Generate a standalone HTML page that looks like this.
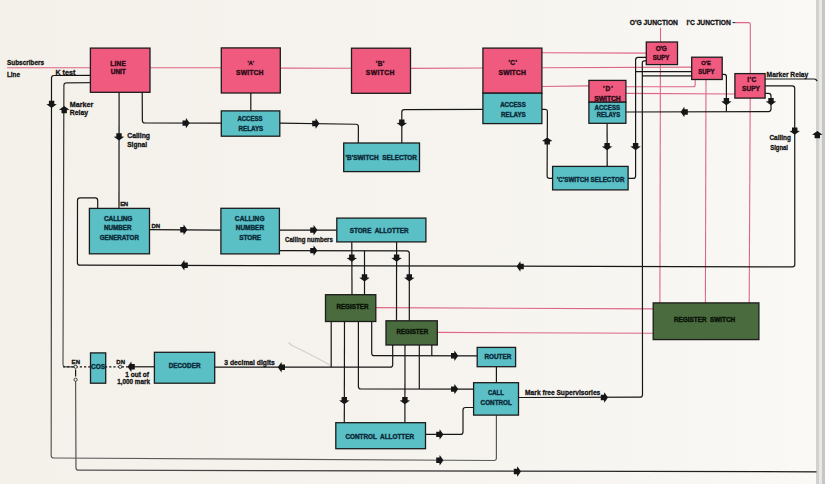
<!DOCTYPE html>
<html><head><meta charset="utf-8"><title>Diagram</title>
<style>html,body{margin:0;padding:0;background:#f1eee9;}body{width:825px;height:484px;overflow:hidden;font-family:"Liberation Sans",sans-serif;}svg{display:block;}</style>
</head><body>
<svg width="825" height="484" viewBox="0 0 825 484">
<defs>
<linearGradient id="bg" x1="0" y1="0" x2="1" y2="0">
<stop offset="0" stop-color="#f4f0ea"/><stop offset="0.45" stop-color="#f6f3ee"/><stop offset="0.8" stop-color="#f8f6f2"/><stop offset="1" stop-color="#faf9f6"/>
</linearGradient>
<linearGradient id="fadeK" gradientUnits="userSpaceOnUse" x1="0" y1="150" x2="0" y2="460"><stop offset="0" stop-color="#141414"/><stop offset="1" stop-color="#5c5c5c"/></linearGradient>
<linearGradient id="fadeM" gradientUnits="userSpaceOnUse" x1="0" y1="80" x2="0" y2="370"><stop offset="0" stop-color="#2a2a2a"/><stop offset="1" stop-color="#555"/></linearGradient>
<linearGradient id="fadeB" gradientUnits="userSpaceOnUse" x1="76" y1="0" x2="816" y2="0"><stop offset="0" stop-color="#555"/><stop offset="0.4" stop-color="#333"/><stop offset="1" stop-color="#1a1a1a"/></linearGradient>
</defs>
<rect x="0" y="0" width="825" height="484" fill="url(#bg)"/>
<rect x="816" y="0" width="3" height="484" fill="#d3d1ce"/>
<rect x="819" y="0" width="3" height="484" fill="#e9e8e6"/>
<rect x="822" y="0" width="3" height="484" fill="#c8c6c3"/>
<path d="M288.5 342.5Q290 344 293 346Q310 354 330 365" fill="none" stroke="#d2cfcb" stroke-width="1.1"/>
<g fill="none" stroke="#dd6686" stroke-width="1.1">
<path d="M7.00 67.80L90.40 67.80"/>
<path d="M150.00 67.70L221.30 67.80"/>
<path d="M280.30 68.10L351.50 68.30"/>
<path d="M410.50 68.40L482.90 68.00"/>
<path d="M541.90 67.70L691.70 67.10"/>
<path d="M541.90 52.80L646.30 53.10"/>
<path d="M541.90 86.50L588.90 85.90"/>
<path d="M625.90 86.80L693.20 86.80Q695.20 86.80 695.20 84.80L695.20 79.50"/>
<path d="M625.90 93.40L734.90 94.00"/>
<path d="M660.50 27.80L660.50 42.00"/>
<path d="M660.40 64.60L659.90 302.90"/>
<path d="M735.50 22.60L748.30 22.60Q750.30 22.60 750.30 24.60L750.30 73.60"/>
<path d="M750.20 98.10L749.20 302.90"/>
<path d="M706.00 79.50L705.40 302.90"/>
<path d="M375.80 307.60L653.20 308.90"/>
<path d="M437.30 332.40L653.20 333.30"/>
</g>
<g fill="none" stroke="#161616" stroke-width="1.2" stroke-linecap="butt">
<path d="M90.40 75.30L54.00 75.49Q51.50 75.50 51.50 78.00L51.20 455.50Q51.20 458.00 53.70 458.01L493.90 460.49Q496.40 460.50 496.40 458.00L496.40 415.10" stroke="url(#fadeK)"/>
<path d="M90.40 82.60L66.40 82.78Q63.90 82.80 63.89 85.30L63.01 364.30Q63.00 366.80 65.50 366.80L75.00 366.80" stroke="url(#fadeM)"/>
<path d="M250.80 93.00L250.80 110.90"/>
<path d="M119.10 92.30L119.00 208.40"/>
<path d="M142.20 92.30L142.38 120.50Q142.40 123.00 144.90 123.00L221.30 123.10"/>
<path d="M279.80 123.20L355.90 124.27Q358.40 124.30 358.39 126.80L358.30 143.00"/>
<path d="M482.90 109.40L404.30 109.59Q401.80 109.60 401.80 112.10L401.80 143.00"/>
<path d="M541.90 109.30L544.90 109.30Q547.40 109.30 547.39 111.80L547.11 175.90Q547.10 178.40 549.60 178.40L552.60 178.40"/>
<path d="M607.10 123.30L607.20 166.40"/>
<path d="M646.30 57.40L638.10 57.40Q635.60 57.40 635.60 59.90L635.60 175.90Q635.60 178.40 633.10 178.40L628.10 178.40"/>
<path d="M646.30 60.90L644.30 60.90Q642.30 60.90 642.30 62.90L642.50 394.70Q642.50 397.20 640.00 397.21L518.50 397.50"/>
<path d="M691.70 71.70L635.60 71.70"/>
<path d="M691.70 75.80L642.30 75.80"/>
<path d="M722.20 74.30L724.30 74.30Q726.40 74.30 726.40 76.40L726.40 111.50"/>
<path d="M765.10 93.40L768.50 93.40Q771.00 93.40 771.00 95.90L771.00 109.10Q771.00 111.60 768.50 111.61L625.90 112.00"/>
<path d="M765.10 85.90L792.20 85.90Q794.70 85.90 794.70 88.40L794.80 264.40Q794.80 266.90 792.30 266.89L79.90 265.21Q77.40 265.20 77.40 262.70L77.50 200.40Q77.50 197.90 80.00 197.90L95.20 197.90Q97.70 197.90 97.70 200.40L97.70 208.40"/>
<path d="M765.10 79.00L814.19 79.00Q815.50 79.00 816.35 80.00L817.20 81.00"/>
<path d="M816.50 471.80L78.50 470.21Q76.00 470.20 75.99 467.70L75.60 381.50" stroke="url(#fadeB)"/>
<path d="M149.50 229.70L220.90 230.10"/>
<path d="M279.40 230.10L336.80 230.10"/>
<path d="M279.40 250.60L406.80 250.80Q409.30 250.80 409.30 253.30L409.30 320.80"/>
<path d="M364.50 250.70L364.50 294.70"/>
<path d="M351.80 241.90L352.00 294.70"/>
<path d="M396.60 241.90L396.50 320.80"/>
<path d="M214.70 367.20L390.20 367.20Q392.70 367.20 392.70 364.70L392.70 345.00"/>
<path d="M331.20 321.50L331.20 367.20"/>
<path d="M344.50 321.50L344.30 422.70"/>
<path d="M358.40 321.50L358.40 386.50Q358.40 389.00 360.90 389.00L473.60 389.10"/>
<path d="M371.70 321.50L371.70 353.20Q371.70 355.70 374.20 355.70L477.20 355.80"/>
<path d="M405.00 345.00L404.90 422.70"/>
<path d="M419.30 345.00L419.30 389.00"/>
<path d="M431.80 345.00L431.80 355.70"/>
<path d="M425.50 434.40L460.50 434.40Q463.00 434.40 463.00 431.90L463.00 410.00Q463.00 407.50 465.50 407.50L473.60 407.50"/>
<path d="M496.40 366.70L496.40 382.70"/>
<path d="M131.00 366.80L154.40 366.80"/>
<path d="M75.60 369.50L75.60 376.50"/>
<path d="M63.00 366.80L131.00 366.80" stroke-dasharray="2.2,2"/>
</g>
<g fill="#f3efea" stroke="#161616" stroke-width="0.8">
<circle cx="75.6" cy="366.8" r="1.6"/>
<circle cx="120.2" cy="366.8" r="1.6"/>
<circle cx="75.6" cy="379.7" r="1.6"/>
</g>
<rect x="90.40" y="48.10" width="59.60" height="44.20" fill="#f05a7f" stroke="#1c1c1c" stroke-width="1.3"/>
<rect x="221.30" y="47.90" width="59.00" height="45.10" fill="#f05a7f" stroke="#1c1c1c" stroke-width="1.3"/>
<rect x="351.50" y="48.20" width="59.00" height="45.10" fill="#f05a7f" stroke="#1c1c1c" stroke-width="1.3"/>
<rect x="482.90" y="48.10" width="59.00" height="45.10" fill="#f05a7f" stroke="#1c1c1c" stroke-width="1.3"/>
<rect x="482.90" y="93.20" width="59.00" height="30.40" fill="#5bbfc6" stroke="#1c1c1c" stroke-width="1.3"/>
<rect x="588.90" y="80.40" width="37.00" height="21.80" fill="#f05a7f" stroke="#1c1c1c" stroke-width="1.3"/>
<rect x="588.90" y="102.20" width="37.00" height="21.10" fill="#5bbfc6" stroke="#1c1c1c" stroke-width="1.3"/>
<rect x="646.30" y="42.00" width="31.20" height="22.60" fill="#f05a7f" stroke="#1c1c1c" stroke-width="1.3"/>
<rect x="691.70" y="57.20" width="30.50" height="22.30" fill="#f05a7f" stroke="#1c1c1c" stroke-width="1.3"/>
<rect x="734.90" y="73.60" width="30.20" height="24.50" fill="#f05a7f" stroke="#1c1c1c" stroke-width="1.3"/>
<rect x="221.30" y="110.90" width="58.50" height="25.30" fill="#5bbfc6" stroke="#1c1c1c" stroke-width="1.3"/>
<rect x="343.70" y="143.00" width="75.80" height="28.60" fill="#5bbfc6" stroke="#1c1c1c" stroke-width="1.3"/>
<rect x="552.60" y="166.40" width="75.50" height="23.50" fill="#5bbfc6" stroke="#1c1c1c" stroke-width="1.3"/>
<rect x="89.40" y="208.40" width="60.10" height="45.40" fill="#5bbfc6" stroke="#1c1c1c" stroke-width="1.3"/>
<rect x="220.90" y="208.30" width="58.50" height="45.60" fill="#5bbfc6" stroke="#1c1c1c" stroke-width="1.3"/>
<rect x="336.80" y="218.10" width="89.10" height="23.80" fill="#5bbfc6" stroke="#1c1c1c" stroke-width="1.3"/>
<rect x="90.50" y="352.90" width="15.20" height="30.30" fill="#5bbfc6" stroke="#1c1c1c" stroke-width="1.3"/>
<rect x="154.40" y="352.30" width="60.30" height="30.90" fill="#5bbfc6" stroke="#1c1c1c" stroke-width="1.3"/>
<rect x="477.20" y="347.40" width="38.40" height="19.30" fill="#5bbfc6" stroke="#1c1c1c" stroke-width="1.3"/>
<rect x="473.60" y="382.70" width="44.90" height="32.40" fill="#5bbfc6" stroke="#1c1c1c" stroke-width="1.3"/>
<rect x="335.80" y="422.70" width="89.70" height="26.00" fill="#5bbfc6" stroke="#1c1c1c" stroke-width="1.3"/>
<rect x="325.50" y="294.70" width="50.30" height="26.80" fill="#4a6b3e" stroke="#1c1c1c" stroke-width="1.3"/>
<rect x="386.00" y="320.80" width="51.30" height="24.20" fill="#4a6b3e" stroke="#1c1c1c" stroke-width="1.3"/>
<rect x="653.20" y="302.90" width="105.70" height="36.70" fill="#4a6b3e" stroke="#1c1c1c" stroke-width="1.3"/>
<g fill="#161616">
<polygon points="48.90,100.70 54.30,100.70 54.30,103.90 56.80,104.20 51.60,107.90 46.40,104.20 48.90,103.90"/>
<polygon points="61.50,113.30 66.90,113.30 66.90,110.10 69.40,109.80 64.20,106.10 59.00,109.80 61.50,110.10"/>
<polygon points="116.30,133.20 121.70,133.20 121.70,136.40 124.20,136.70 119.00,140.40 113.80,136.70 116.30,136.40"/>
<polygon points="182.50,120.40 182.50,125.80 185.70,125.80 186.00,128.30 189.70,123.10 186.00,117.90 185.70,120.40"/>
<polygon points="312.20,120.80 312.20,126.20 315.40,126.20 315.70,128.70 319.40,123.50 315.70,118.30 315.40,120.80"/>
<polygon points="399.10,119.50 404.50,119.50 404.50,122.70 407.00,123.00 401.80,126.70 396.60,123.00 399.10,122.70"/>
<polygon points="544.50,144.60 549.90,144.60 549.90,141.40 552.40,141.10 547.20,137.40 542.00,141.10 544.50,141.40"/>
<polygon points="604.40,143.10 609.80,143.10 609.80,146.30 612.30,146.60 607.10,150.30 601.90,146.60 604.40,146.30"/>
<polygon points="632.90,143.10 638.30,143.10 638.30,146.30 640.80,146.60 635.60,150.30 630.40,146.60 632.90,146.30"/>
<polygon points="723.70,98.00 729.10,98.00 729.10,101.20 731.60,101.50 726.40,105.20 721.20,101.50 723.70,101.20"/>
<polygon points="768.30,98.00 773.70,98.00 773.70,101.20 776.20,101.50 771.00,105.20 765.80,101.50 768.30,101.20"/>
<polygon points="687.80,109.30 687.80,114.70 684.60,114.70 684.30,117.20 680.60,112.00 684.30,106.80 684.60,109.30"/>
<polygon points="792.00,127.50 797.40,127.50 797.40,130.70 799.90,131.00 794.70,134.70 789.50,131.00 792.00,130.70"/>
<polygon points="814.60,138.20 820.00,138.20 820.00,135.00 822.50,134.70 817.30,131.00 812.10,134.70 814.60,135.00"/>
<polygon points="180.20,227.10 180.20,232.50 183.40,232.50 183.70,235.00 187.40,229.80 183.70,224.60 183.40,227.10"/>
<polygon points="187.80,262.60 187.80,268.00 184.60,268.00 184.30,270.50 180.60,265.30 184.30,260.10 184.60,262.60"/>
<polygon points="523.80,263.80 523.80,269.20 520.60,269.20 520.30,271.70 516.60,266.50 520.30,261.30 520.60,263.80"/>
<polygon points="310.20,227.40 310.20,232.80 313.40,232.80 313.70,235.30 317.40,230.10 313.70,224.90 313.40,227.40"/>
<polygon points="310.20,247.90 310.20,253.30 313.40,253.30 313.70,255.80 317.40,250.60 313.70,245.40 313.40,247.90"/>
<polygon points="349.10,254.60 354.50,254.60 354.50,257.80 357.00,258.10 351.80,261.80 346.60,258.10 349.10,257.80"/>
<polygon points="393.90,254.60 399.30,254.60 399.30,257.80 401.80,258.10 396.60,261.80 391.40,258.10 393.90,257.80"/>
<polygon points="361.80,274.30 367.20,274.30 367.20,277.50 369.70,277.80 364.50,281.50 359.30,277.80 361.80,277.50"/>
<polygon points="406.60,274.30 412.00,274.30 412.00,277.50 414.50,277.80 409.30,281.50 404.10,277.80 406.60,277.50"/>
<polygon points="285.00,364.50 285.00,369.90 281.80,369.90 281.50,372.40 277.80,367.20 281.50,362.00 281.80,364.50"/>
<polygon points="341.60,397.10 347.00,397.10 347.00,400.30 349.50,400.60 344.30,404.30 339.10,400.60 341.60,400.30"/>
<polygon points="402.20,397.10 407.60,397.10 407.60,400.30 410.10,400.60 404.90,404.30 399.70,400.60 402.20,400.30"/>
<polygon points="451.00,353.10 451.00,358.50 454.20,358.50 454.50,361.00 458.20,355.80 454.50,350.60 454.20,353.10"/>
<polygon points="451.00,386.40 451.00,391.80 454.20,391.80 454.50,394.30 458.20,389.10 454.50,383.90 454.20,386.40"/>
<polygon points="436.20,431.70 436.20,437.10 439.40,437.10 439.70,439.60 443.40,434.40 439.70,429.20 439.40,431.70"/>
<polygon points="436.20,457.50 436.20,462.90 439.40,462.90 439.70,465.40 443.40,460.20 439.70,455.00 439.40,457.50"/>
<polygon points="600.80,394.80 600.80,400.20 604.00,400.20 604.30,402.70 608.00,397.50 604.30,392.30 604.00,394.80"/>
<polygon points="513.80,468.80 513.80,474.20 517.00,474.20 517.30,476.70 521.00,471.50 517.30,466.30 517.00,468.80"/>
<polygon points="134.80,364.10 134.80,369.50 131.60,369.50 131.30,372.00 127.60,366.80 131.30,361.60 131.60,364.10"/>
</g>
<g font-family="Liberation Sans, sans-serif" font-weight="bold" stroke-width="0.22">
<text x="7.00" y="64.60" font-size="7.40" fill="#111" stroke="#111" stroke-width="0.30" textLength="37.00" lengthAdjust="spacingAndGlyphs" xml:space="preserve">Subscribers</text>
<text x="7.00" y="76.60" font-size="7.40" fill="#111" stroke="#111" stroke-width="0.30" textLength="13.00" lengthAdjust="spacingAndGlyphs" xml:space="preserve">Line</text>
<text x="55.50" y="74.60" font-size="7.40" fill="#111" stroke="#111" stroke-width="0.30" textLength="19.80" lengthAdjust="spacingAndGlyphs" xml:space="preserve">K test</text>
<text x="69.80" y="106.70" font-size="7.40" fill="#111" stroke="#111" stroke-width="0.30" textLength="23.40" lengthAdjust="spacingAndGlyphs" xml:space="preserve">Marker</text>
<text x="69.80" y="115.00" font-size="7.40" fill="#111" stroke="#111" stroke-width="0.30" textLength="18.40" lengthAdjust="spacingAndGlyphs" xml:space="preserve">Relay</text>
<text x="127.20" y="137.50" font-size="7.40" fill="#111" stroke="#111" stroke-width="0.30" textLength="22.80" lengthAdjust="spacingAndGlyphs" xml:space="preserve">Calling</text>
<text x="127.20" y="146.90" font-size="7.40" fill="#111" stroke="#111" stroke-width="0.30" textLength="19.80" lengthAdjust="spacingAndGlyphs" xml:space="preserve">Signal</text>
<text x="120.30" y="205.60" font-size="6.00" fill="#111" stroke="#111" stroke-width="0.30" textLength="7.90" lengthAdjust="spacing" xml:space="preserve">EN</text>
<text x="151.60" y="227.70" font-size="6.00" fill="#111" stroke="#111" stroke-width="0.30" textLength="8.50" lengthAdjust="spacing" xml:space="preserve">DN</text>
<text x="285.00" y="242.40" font-size="7.40" fill="#111" stroke="#111" stroke-width="0.30" textLength="47.90" lengthAdjust="spacingAndGlyphs" xml:space="preserve">Calling numbers</text>
<text x="71.60" y="363.80" font-size="6.00" fill="#111" stroke="#111" stroke-width="0.30" textLength="8.40" lengthAdjust="spacing" xml:space="preserve">EN</text>
<text x="116.20" y="363.80" font-size="6.00" fill="#111" stroke="#111" stroke-width="0.30" textLength="9.00" lengthAdjust="spacing" xml:space="preserve">DN</text>
<text x="125.20" y="376.60" font-size="7.40" fill="#111" stroke="#111" stroke-width="0.30" textLength="23.80" lengthAdjust="spacingAndGlyphs" xml:space="preserve">1 out of</text>
<text x="117.20" y="384.00" font-size="7.40" fill="#111" stroke="#111" stroke-width="0.30" textLength="32.80" lengthAdjust="spacingAndGlyphs" xml:space="preserve">1,000 mark</text>
<text x="224.30" y="364.70" font-size="7.40" fill="#111" stroke="#111" stroke-width="0.30" textLength="50.50" lengthAdjust="spacingAndGlyphs" xml:space="preserve">3 decimal digits</text>
<text x="525.10" y="395.40" font-size="7.40" fill="#111" stroke="#111" stroke-width="0.30" textLength="75.20" lengthAdjust="spacingAndGlyphs" xml:space="preserve">Mark free Supervisories</text>
<text x="629.70" y="25.30" font-size="7.40" fill="#111" stroke="#111" stroke-width="0.30" textLength="48.30" lengthAdjust="spacingAndGlyphs" xml:space="preserve">O&#39;G JUNCTION</text>
<text x="686.50" y="25.30" font-size="7.40" fill="#111" stroke="#111" stroke-width="0.30" textLength="44.30" lengthAdjust="spacingAndGlyphs" xml:space="preserve">I&#39;C JUNCTION</text>
<text x="766.60" y="77.20" font-size="7.40" fill="#111" stroke="#111" stroke-width="0.30" textLength="41.60" lengthAdjust="spacingAndGlyphs" xml:space="preserve">Marker Relay</text>
<text x="769.40" y="140.40" font-size="7.40" fill="#111" stroke="#111" stroke-width="0.30" textLength="21.50" lengthAdjust="spacingAndGlyphs" xml:space="preserve">Calling</text>
<text x="770.20" y="149.80" font-size="7.40" fill="#111" stroke="#111" stroke-width="0.30" textLength="17.80" lengthAdjust="spacingAndGlyphs" xml:space="preserve">Signal</text>
<text x="110.20" y="65.50" font-size="6.50" fill="#2e0a16" stroke="#2e0a16" stroke-width="0.38" textLength="15.60" lengthAdjust="spacing" xml:space="preserve">LINE</text>
<text x="110.80" y="74.10" font-size="6.50" fill="#2e0a16" stroke="#2e0a16" stroke-width="0.38" textLength="15.00" lengthAdjust="spacing" xml:space="preserve">UNIT</text>
<text x="247.50" y="64.80" font-size="6.17" fill="#2e0a16" stroke="#2e0a16" stroke-width="0.38" textLength="6.50" lengthAdjust="spacingAndGlyphs" xml:space="preserve">&#39;A&#39;</text>
<text x="236.00" y="74.70" font-size="6.80" fill="#2e0a16" stroke="#2e0a16" stroke-width="0.38" textLength="27.40" lengthAdjust="spacing" xml:space="preserve">SWITCH</text>
<text x="375.80" y="66.00" font-size="6.50" fill="#2e0a16" stroke="#2e0a16" stroke-width="0.38" textLength="8.60" lengthAdjust="spacing" xml:space="preserve">&#39;B&#39;</text>
<text x="365.80" y="75.20" font-size="6.80" fill="#2e0a16" stroke="#2e0a16" stroke-width="0.38" textLength="28.50" lengthAdjust="spacing" xml:space="preserve">SWITCH</text>
<text x="508.40" y="64.70" font-size="6.50" fill="#2e0a16" stroke="#2e0a16" stroke-width="0.38" textLength="8.60" lengthAdjust="spacing" xml:space="preserve">&#39;C&#39;</text>
<text x="498.50" y="74.60" font-size="6.80" fill="#2e0a16" stroke="#2e0a16" stroke-width="0.38" textLength="27.30" lengthAdjust="spacing" xml:space="preserve">SWITCH</text>
<text x="500.20" y="107.30" font-size="6.65" fill="#0a2a38" stroke="#0a2a38" stroke-width="0.38" textLength="25.60" lengthAdjust="spacingAndGlyphs" xml:space="preserve">ACCESS</text>
<text x="501.00" y="116.70" font-size="6.65" fill="#0a2a38" stroke="#0a2a38" stroke-width="0.38" textLength="24.80" lengthAdjust="spacingAndGlyphs" xml:space="preserve">RELAYS</text>
<text x="237.40" y="121.30" font-size="6.65" fill="#0a2a38" stroke="#0a2a38" stroke-width="0.38" textLength="25.00" lengthAdjust="spacingAndGlyphs" xml:space="preserve">ACCESS</text>
<text x="238.60" y="130.50" font-size="6.65" fill="#0a2a38" stroke="#0a2a38" stroke-width="0.38" textLength="24.60" lengthAdjust="spacingAndGlyphs" xml:space="preserve">RELAYS</text>
<text x="345.60" y="159.90" font-size="6.47" fill="#0a2a38" stroke="#0a2a38" stroke-width="0.38" textLength="71.40" lengthAdjust="spacingAndGlyphs" xml:space="preserve">&#39;B&#39;SWITCH  SELECTOR</text>
<text x="556.80" y="182.20" font-size="6.46" fill="#0a2a38" stroke="#0a2a38" stroke-width="0.38" textLength="67.60" lengthAdjust="spacingAndGlyphs" xml:space="preserve">&#39;C&#39;SWITCH SELECTOR</text>
<text x="655.70" y="50.90" font-size="6.50" fill="#2e0a16" stroke="#2e0a16" stroke-width="0.38" textLength="11.10" lengthAdjust="spacing" xml:space="preserve">O&#39;G</text>
<text x="652.70" y="59.50" font-size="6.46" fill="#2e0a16" stroke="#2e0a16" stroke-width="0.38" textLength="16.80" lengthAdjust="spacingAndGlyphs" xml:space="preserve">SUPY</text>
<text x="701.20" y="65.40" font-size="6.17" fill="#2e0a16" stroke="#2e0a16" stroke-width="0.38" textLength="9.60" lengthAdjust="spacingAndGlyphs" xml:space="preserve">O&#39;E</text>
<text x="698.20" y="74.30" font-size="6.46" fill="#2e0a16" stroke="#2e0a16" stroke-width="0.38" textLength="16.30" lengthAdjust="spacingAndGlyphs" xml:space="preserve">SUPY</text>
<text x="747.20" y="81.80" font-size="6.50" fill="#2e0a16" stroke="#2e0a16" stroke-width="0.38" textLength="9.00" lengthAdjust="spacing" xml:space="preserve">I&#39;C</text>
<text x="742.00" y="90.70" font-size="6.79" fill="#2e0a16" stroke="#2e0a16" stroke-width="0.38" textLength="17.90" lengthAdjust="spacingAndGlyphs" xml:space="preserve">SUPY</text>
<text x="602.90" y="91.30" font-size="6.50" fill="#2e0a16" stroke="#2e0a16" stroke-width="0.38" textLength="10.00" lengthAdjust="spacing" xml:space="preserve">&#39;D&#39;</text>
<text x="594.30" y="100.80" font-size="6.80" fill="#2e0a16" stroke="#2e0a16" stroke-width="0.38" textLength="26.40" lengthAdjust="spacing" xml:space="preserve">SWITCH</text>
<text x="594.50" y="109.70" font-size="6.46" fill="#0a2a38" stroke="#0a2a38" stroke-width="0.38" textLength="25.60" lengthAdjust="spacingAndGlyphs" xml:space="preserve">ACCESS</text>
<text x="596.70" y="116.90" font-size="6.46" fill="#0a2a38" stroke="#0a2a38" stroke-width="0.38" textLength="23.40" lengthAdjust="spacingAndGlyphs" xml:space="preserve">RELAYS</text>
<text x="104.00" y="220.70" font-size="6.50" fill="#0a2a38" stroke="#0a2a38" stroke-width="0.38" textLength="28.40" lengthAdjust="spacing" xml:space="preserve">CALLING</text>
<text x="104.00" y="230.20" font-size="6.38" fill="#0a2a38" stroke="#0a2a38" stroke-width="0.38" textLength="27.40" lengthAdjust="spacingAndGlyphs" xml:space="preserve">NUMBER</text>
<text x="99.70" y="240.00" font-size="6.32" fill="#0a2a38" stroke="#0a2a38" stroke-width="0.38" textLength="39.20" lengthAdjust="spacingAndGlyphs" xml:space="preserve">GENERATOR</text>
<text x="234.80" y="220.80" font-size="6.50" fill="#0a2a38" stroke="#0a2a38" stroke-width="0.38" textLength="29.70" lengthAdjust="spacing" xml:space="preserve">CALLING</text>
<text x="235.80" y="229.70" font-size="6.50" fill="#0a2a38" stroke="#0a2a38" stroke-width="0.38" textLength="28.30" lengthAdjust="spacing" xml:space="preserve">NUMBER</text>
<text x="239.30" y="240.20" font-size="6.50" fill="#0a2a38" stroke="#0a2a38" stroke-width="0.38" textLength="21.80" lengthAdjust="spacing" xml:space="preserve">STORE</text>
<text x="349.70" y="233.30" font-size="6.84" fill="#0a2a38" stroke="#0a2a38" stroke-width="0.38" textLength="58.80" lengthAdjust="spacingAndGlyphs" xml:space="preserve">STORE  ALLOTTER</text>
<text x="336.40" y="308.60" font-size="6.46" fill="#081206" stroke="#081206" stroke-width="0.38" textLength="32.10" lengthAdjust="spacingAndGlyphs" xml:space="preserve">REGISTER</text>
<text x="396.50" y="334.30" font-size="6.46" fill="#081206" stroke="#081206" stroke-width="0.38" textLength="31.70" lengthAdjust="spacingAndGlyphs" xml:space="preserve">REGISTER</text>
<text x="674.00" y="322.40" font-size="6.46" fill="#081206" stroke="#081206" stroke-width="0.38" textLength="61.10" lengthAdjust="spacingAndGlyphs" xml:space="preserve">REGISTER  SWITCH</text>
<text x="91.00" y="369.30" font-size="6.50" fill="#0a2a38" stroke="#0a2a38" stroke-width="0.38" textLength="14.00" lengthAdjust="spacing" xml:space="preserve">COS</text>
<text x="168.70" y="367.80" font-size="6.47" fill="#0a2a38" stroke="#0a2a38" stroke-width="0.38" textLength="31.80" lengthAdjust="spacingAndGlyphs" xml:space="preserve">DECODER</text>
<text x="484.50" y="358.70" font-size="6.48" fill="#0a2a38" stroke="#0a2a38" stroke-width="0.38" textLength="26.80" lengthAdjust="spacingAndGlyphs" xml:space="preserve">ROUTER</text>
<text x="487.90" y="395.40" font-size="6.46" fill="#0a2a38" stroke="#0a2a38" stroke-width="0.38" textLength="15.90" lengthAdjust="spacingAndGlyphs" xml:space="preserve">CALL</text>
<text x="480.60" y="404.90" font-size="6.46" fill="#0a2a38" stroke="#0a2a38" stroke-width="0.38" textLength="31.30" lengthAdjust="spacingAndGlyphs" xml:space="preserve">CONTROL</text>
<text x="345.50" y="438.50" font-size="6.46" fill="#0a2a38" stroke="#0a2a38" stroke-width="0.38" textLength="68.50" lengthAdjust="spacingAndGlyphs" xml:space="preserve">CONTROL  ALLOTTER</text>
</g>
<rect x="732.5" y="22.1" width="3" height="1" fill="#222"/>
</svg>
</body></html>
